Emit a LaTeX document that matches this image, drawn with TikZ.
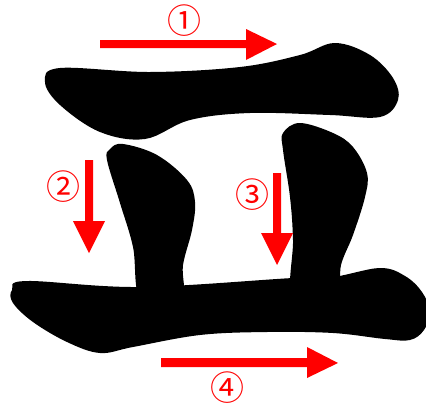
\documentclass[tikz,border=0pt]{standalone}
\usepackage{fontspec}
\newfontfamily\circfont{Noto Sans CJK SC}
\begin{document}
\begin{tikzpicture}[x=1pt,y=-1pt,
  inkstroke/.style={fill=black,draw=none},
  redarrow/.style={fill=red,draw=none},
  numlabel/.style={text=red,font=\circfont\fontsize{34}{34}\selectfont,inner sep=0pt}]
\useasboundingbox (0,0) rectangle (426,410);
\clip (0,0) rectangle (426,410);
% stroke 1
\fill[inkstroke] plot[smooth cycle,tension=0.6] coordinates {(45,82) (60,68) (150,72) (240,67) (300,55) (335,43) (370,55) (393,78) (398,100) (380,117) (330,115) (250,113) (190,120) (145,139) (100,132) (60,105)};
% stroke 2
\fill[inkstroke] plot[smooth cycle,tension=0.6] coordinates {(123,144) (157,155) (187,180) (195,202) (192,230) (183,265) (181,300) (141,300) (133,247) (120,203) (107,160) (110,149)};
% stroke 3
\fill[inkstroke] plot[smooth cycle,tension=0.6] coordinates {(283,133) (300,123) (333,133) (353,147) (367,173) (365,197) (353,235) (341,265) (336,300) (293,300) (293,240) (290,197) (283,150)};
% stroke 4
\fill[inkstroke] plot[smooth cycle,tension=0.6] coordinates {(12,290) (27,281) (140,287) (293,278) (333,277) (380,268) (405,276) (422,292) (430,312) (424,330) (410,340) (385,339) (333,333) (267,332) (200,335) (133,347) (100,353) (67,342) (33,322) (13,303)};
% arrows
\fill[redarrow] (100,40) -- (246,40) -- (246,29) -- (277,44) -- (246,60) -- (246,48) -- (100,48) -- cycle;
\fill[redarrow] (85,160) -- (85,221) -- (73,221) -- (89,253) -- (105,221) -- (93,221) -- (93,160) -- cycle;
\fill[redarrow] (273,173) -- (273,233) -- (261,233) -- (277,265) -- (293,233) -- (281,233) -- (281,173) -- cycle;
\fill[redarrow] (161,358) -- (307,358) -- (307,347) -- (338,363) -- (307,378) -- (307,367) -- (161,367) -- cycle;
% labels
\node[numlabel] (n1) at (184,21) {①};
\node[numlabel] (n2) at (63,187) {②};
\node[numlabel] (n3) at (252,195) {③};
\node[numlabel] (n4) at (227,388) {④};
\end{tikzpicture}
\end{document}
